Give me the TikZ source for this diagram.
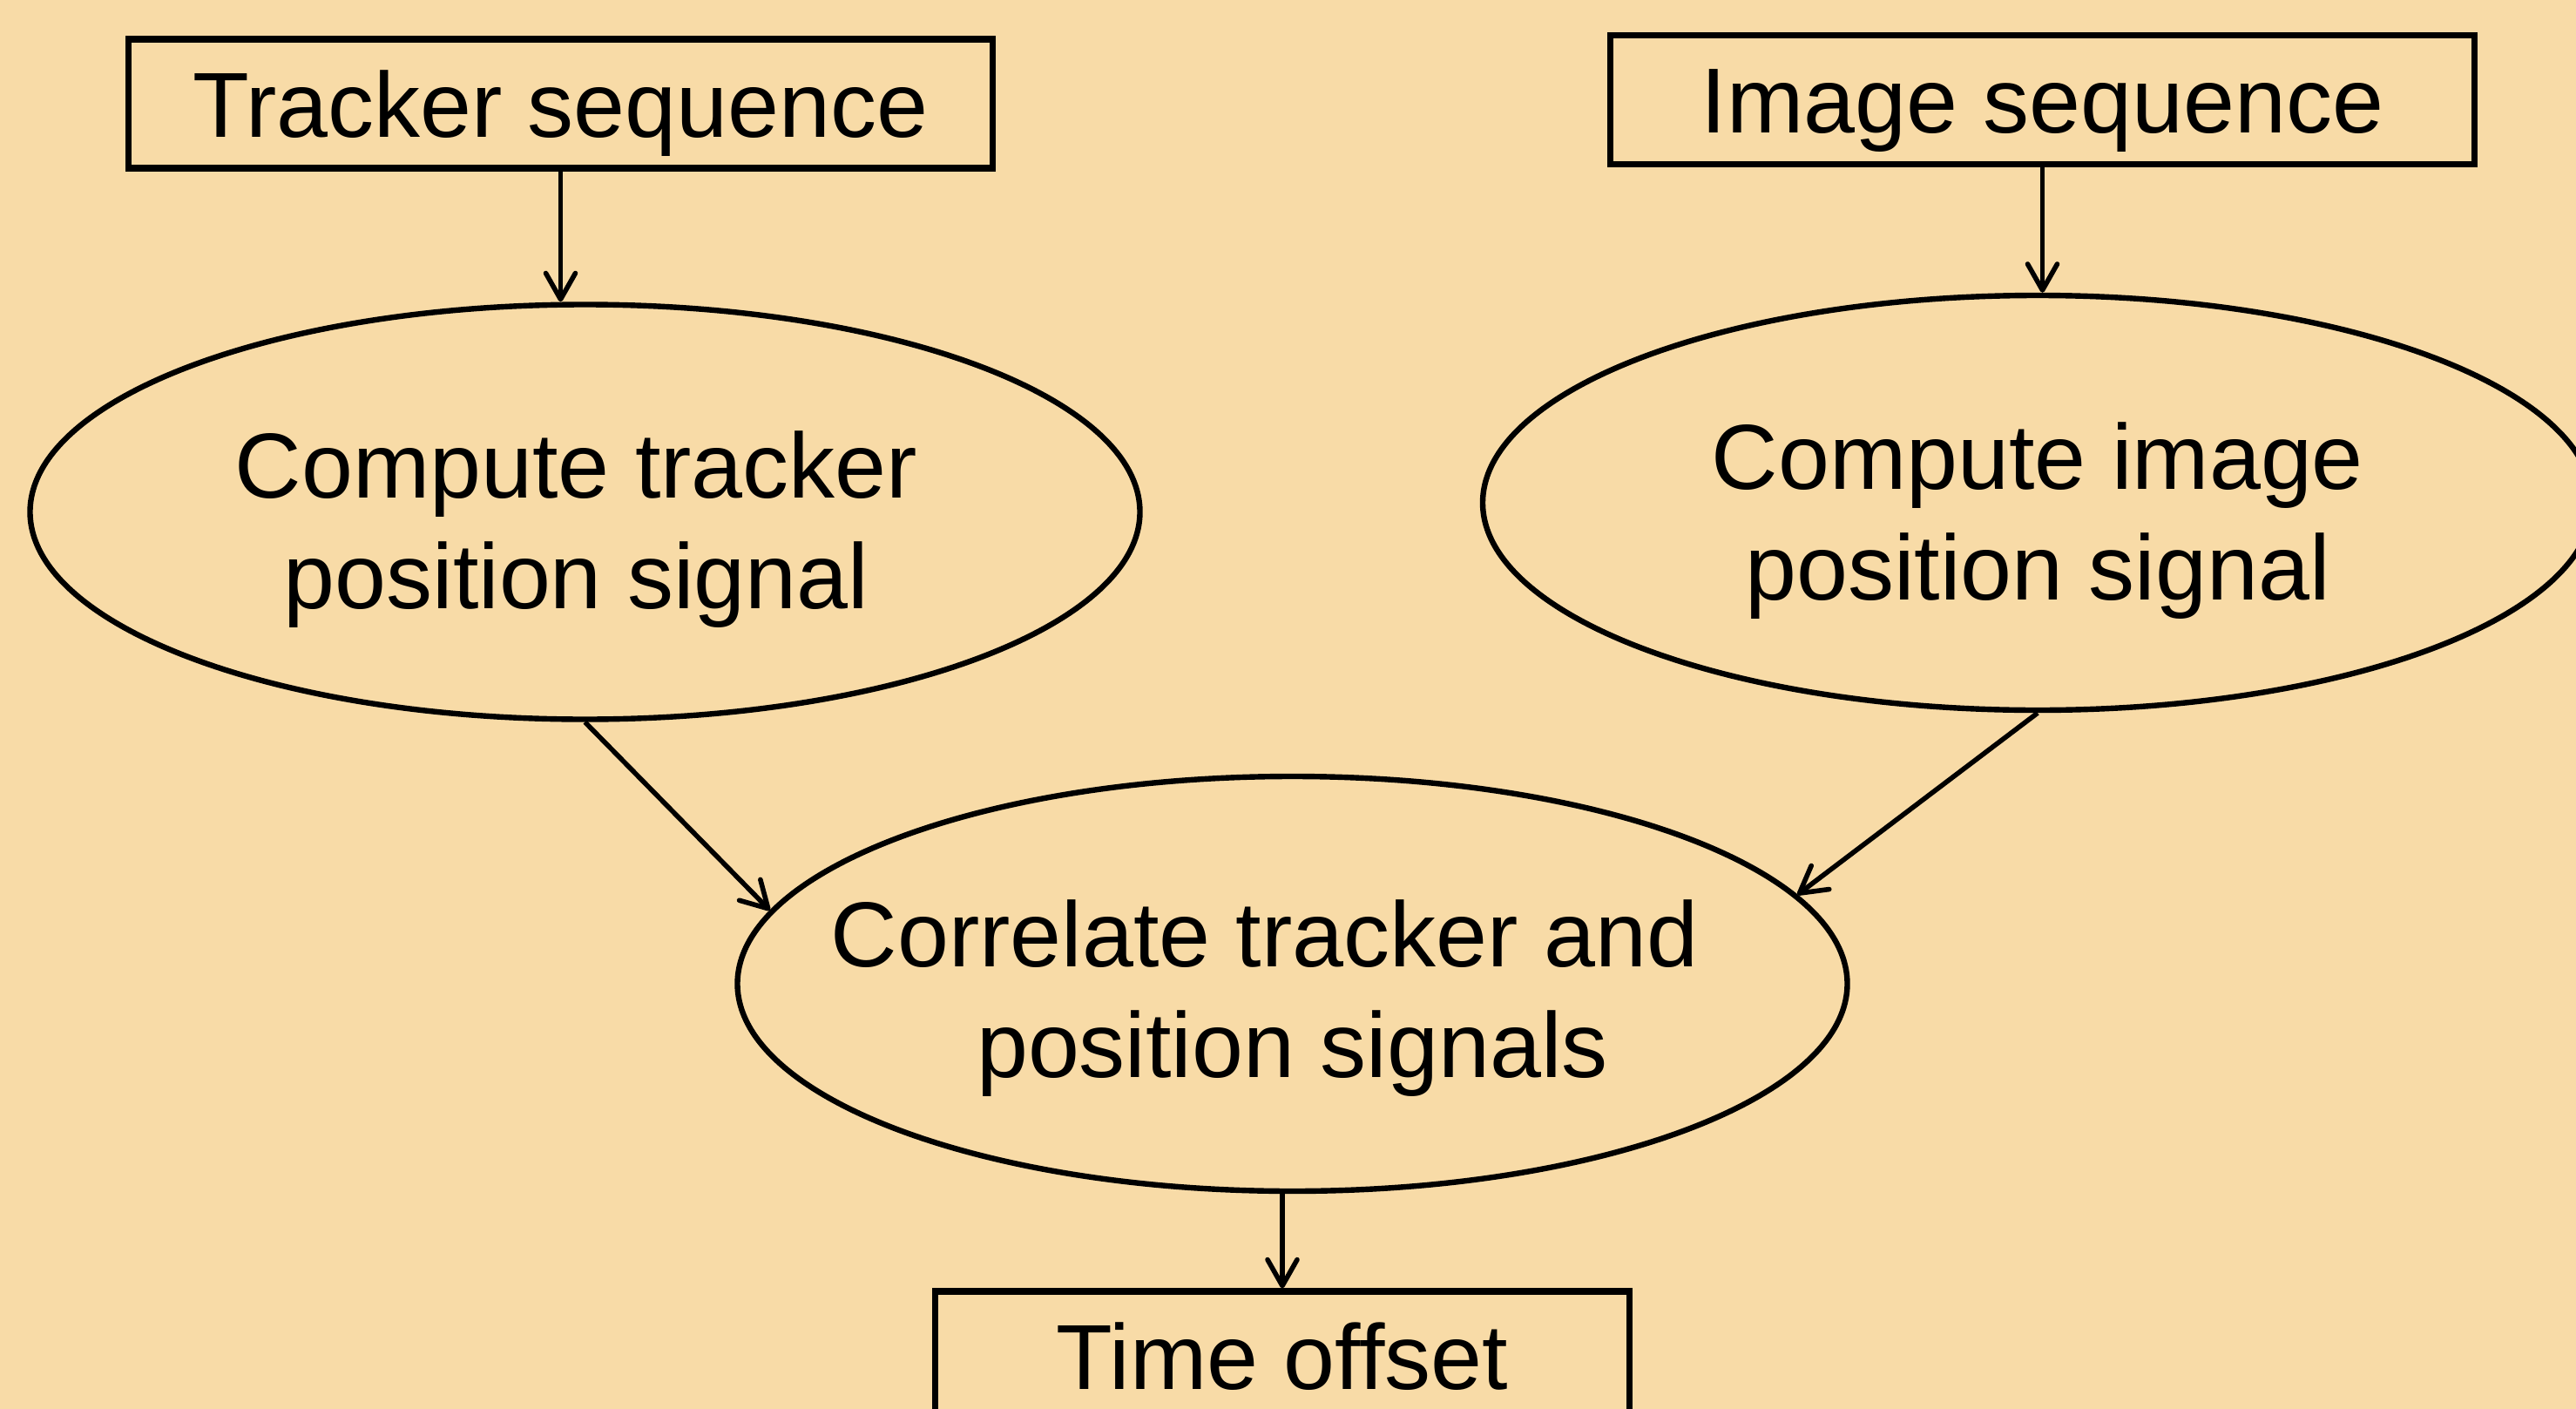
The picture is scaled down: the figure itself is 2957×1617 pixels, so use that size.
\documentclass[tikz,border=0pt]{standalone}
\usepackage{fontspec}
\setmainfont{Liberation Sans}
\usetikzlibrary{arrows.meta,shapes.geometric}
\definecolor{sand}{RGB}{248,219,167}
\begin{document}
\begin{tikzpicture}[x=0.25pt,y=-0.25pt,
  every node/.style={font=\fontsize{26.5}{31.75}\selectfont},
  inbox/.style={draw,line width=1.8pt,rectangle,inner sep=0pt,
    minimum height=37pt,text height=19pt,text depth=0pt},
  stage/.style={draw,line width=1.6pt,ellipse,inner sep=0pt,
    minimum width=318.5pt,minimum height=119pt},
  stagetext/.style={anchor=base,inner sep=0pt},
  flow/.style={line width=1.4pt,-{Straight Barb[length=7.5pt,width=8.5pt,round]}}]
  % canvas
  \path[use as bounding box,fill=sand] (0,0) rectangle (2957,1617);
  \clip (0,0) rectangle (2957,1617);

  % inputs and output
  \node[inbox,minimum width=248pt] (trk) at (643.5,119) {Tracker sequence};
  \node[inbox,minimum width=248pt] (img) at (2344.5,114.5) {Image sequence};
  \node[inbox,minimum width=199.4pt] (off) at (1472,1556) {Time offset};

  % processing stages
  \node[stage] (e1) at (671.5,587.5) {};
  \node[stage] (e2) at (2339,577) {};
  \node[stage] (e3) at (1483.5,1129) {};

  \node[stagetext,xshift=-2.5pt,yshift=4pt] (e1t) at (e1.center)
    {\begin{tabular}[t]{@{}c@{}}Compute tracker\\position signal\end{tabular}};
  \node[stagetext,yshift=4pt] (e2t) at (e2.center)
    {\begin{tabular}[t]{@{}c@{}}Compute image\\position signal\end{tabular}};
  \node[stagetext,yshift=4.8pt] (e3t) at (e3.center)
    {\begin{tabular}[t]{@{}c@{}}Correlate tracker and\hspace*{16pt}\\position signals\end{tabular}};

  % connectors
  \draw[flow] (trk.south) -- (trk.south |- e1.north);
  \draw[flow] (img.south) -- (img.south |- e2.north);
  \draw[flow] (e1.south) -- (e3.172);
  \draw[flow] (e2.south) -- (e3.10);
  \draw[flow] (off.north |- e3.south) -- (off.north);
\end{tikzpicture}
\end{document}
